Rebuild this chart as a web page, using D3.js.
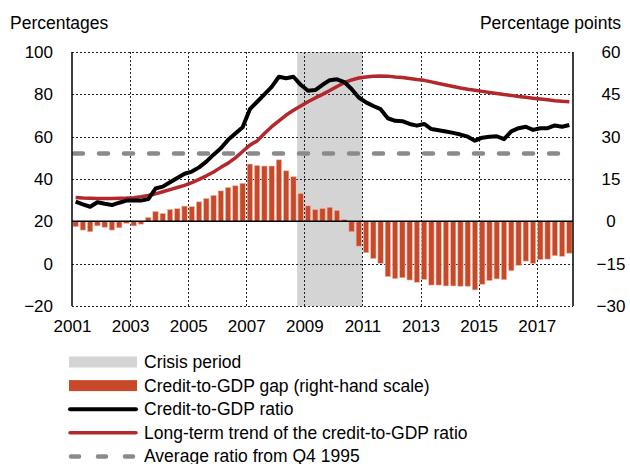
<!DOCTYPE html>
<html>
<head>
<meta charset="utf-8">
<script src="https://cdn.jsdelivr.net/npm/d3@7"></script>
<style>
  body { margin: 0; background: #fff; }
  svg { display: block; font-family: "Liberation Sans", Arial, sans-serif; }
  .tick text { font-size: 17px; fill: #000; }
</style>
</head>
<body>
<svg id="chart" width="630" height="464"></svg>
<script>
// quarters 2001Q1 .. 2018Q1
const firstYear = 2001;
const nQuarters = 69;
const quarters = d3.range(nQuarters).map(i => (firstYear + Math.floor(i / 4)) + "Q" + (i % 4 + 1));

// credit-to-GDP ratio, percentages
const ratio = [
  29.3, 28.0, 26.9, 29.0, 28.3, 27.7, 28.8, 29.8, 29.8, 29.8, 30.5, 35.5,
  36.4, 38.5, 40.5, 42.5, 43.5, 45.5, 48.2, 51.5, 54.5, 58.5, 61.5, 64.5,
  73.0, 76.5, 80.0, 83.5, 88.3, 87.6, 88.3, 84.5, 81.7, 82.0, 84.5, 86.7,
  87.1, 85.8, 82.5, 78.5, 76.2, 74.5, 73.0, 68.7, 67.5, 67.3, 66.0, 65.2,
  66.0, 63.6, 63.0, 62.4, 61.8, 61.0, 60.0, 58.1, 59.5, 60.0, 60.2, 58.8,
  62.5, 64.0, 64.7, 63.2, 64.0, 64.0, 65.3, 64.7, 65.5
];

// long-term trend of the ratio, percentages
const trend = [
  31.3, 31.0, 30.9, 30.8, 30.8, 30.8, 30.9, 31.0, 31.2, 31.6, 32.2, 33.0,
  34.0, 35.0, 36.0, 37.0, 38.3, 39.8, 41.5, 43.3, 45.5, 47.5, 50.0, 53.0,
  56.0, 58.0, 61.5, 64.7, 67.5, 70.2, 72.5, 74.5, 76.5, 78.3, 80.0, 81.8,
  83.7, 85.5, 86.8, 87.7, 88.2, 88.5, 88.7, 88.6, 88.2, 87.9, 87.5, 87.0,
  86.6, 85.9, 85.1, 84.4, 83.7, 83.0, 82.4, 81.9, 81.4, 80.9, 80.4, 79.9,
  79.5, 79.0, 78.6, 78.2, 77.8, 77.4, 77.0, 76.7, 76.5
];

// credit-to-GDP gap, percentage points (right-hand scale)
const gap = [
  -1.9, -3.1, -3.7, -1.6, -2.1, -3.1, -2.3, -0.7, -1.6, -1.0, 1.4, 3.5,
  2.8, 4.2, 4.5, 5.4, 5.2, 6.9, 8.1, 9.2, 10.8, 12.0, 12.6, 13.5,
  20.3, 19.8, 19.6, 19.6, 21.8, 17.9, 15.8, 9.9, 5.5, 4.2, 4.6, 5.0,
  3.9, 0.7, -3.7, -8.8, -11.1, -13.2, -14.9, -19.6, -20.3, -20.0, -20.8, -21.6,
  -20.6, -22.6, -22.6, -22.9, -22.9, -23.0, -23.0, -24.3, -22.3, -21.0, -20.4, -20.7,
  -17.5, -15.6, -14.1, -14.9, -13.6, -13.4, -12.2, -12.4, -11.3
];

const averageRatio = 52;
const crisisPeriod = [2008.75, 2011.0];

const leftTicks = [-20, 0, 20, 40, 60, 80, 100];
const rightTicks = [-30, -15, 0, 15, 30, 45, 60];
const yearTicks = [2001, 2003, 2005, 2007, 2009, 2011, 2013, 2015, 2017];

const legendLabels = [
  "Crisis period",
  "Credit-to-GDP gap (right-hand scale)",
  "Credit-to-GDP ratio",
  "Long-term trend of the credit-to-GDP ratio",
  "Average ratio from Q4 1995"
];

const colors = {
  crisis: "#d4d4d4",
  gap: "#c8482a",
  ratio: "#000000",
  trend: "#b3282d",
  average: "#8a8a8a"
};

// plot area
const plot = { left: 72, right: 573, top: 52, bottom: 306 };

const svg = d3.select("#chart");

const x = d3.scaleLinear()
  .domain([2001, 2018.25])
  .range([plot.left, plot.right]);

const yLeft = d3.scaleLinear()
  .domain([-20, 100])
  .range([plot.bottom, plot.top]);

const yRight = d3.scaleLinear()
  .domain([-30, 60])
  .range([plot.bottom, plot.top]);

// quarter centre on the time axis
const qx = i => x(firstYear + (i + 0.5) / 4);
const barW = (x(2001.25) - x(2001)) * 0.74;

// crisis shading
svg.append("rect")
  .attr("x", x(crisisPeriod[0]))
  .attr("y", plot.top)
  .attr("width", x(crisisPeriod[1]) - x(crisisPeriod[0]))
  .attr("height", plot.bottom - plot.top)
  .attr("fill", colors.crisis);

// dotted grid
const grid = svg.append("g")
  .attr("stroke", "#222")
  .attr("stroke-width", 1)
  .attr("stroke-dasharray", "2,2");

grid.selectAll(".hgrid")
  .data(leftTicks.filter(d => d !== 20))
  .enter().append("line")
  .attr("x1", plot.left)
  .attr("x2", plot.right)
  .attr("y1", d => Math.round(yLeft(d)) + 0.5)
  .attr("y2", d => Math.round(yLeft(d)) + 0.5);

grid.selectAll(".vgrid")
  .data(yearTicks.slice(1))
  .enter().append("line")
  .attr("x1", d => Math.round(x(d)) + 0.5)
  .attr("x2", d => Math.round(x(d)) + 0.5)
  .attr("y1", plot.top)
  .attr("y2", plot.bottom);

// gap bars on the right-hand scale
svg.append("g")
  .selectAll("rect")
  .data(gap)
  .enter().append("rect")
  .attr("x", (d, i) => qx(i) - barW / 2)
  .attr("y", d => yRight(Math.max(0, d)))
  .attr("width", barW)
  .attr("height", d => Math.abs(yRight(d) - yRight(0)))
  .attr("fill", colors.gap)
  .attr("stroke", "#eebcaa")
  .attr("stroke-width", 0.6);

// zero line of the right scale
svg.append("line")
  .attr("x1", plot.left)
  .attr("x2", plot.right)
  .attr("y1", yRight(0))
  .attr("y2", yRight(0))
  .attr("stroke", "#000")
  .attr("stroke-width", 1.5);

// average ratio
svg.append("line")
  .attr("x1", plot.left)
  .attr("x2", plot.right)
  .attr("y1", yLeft(averageRatio))
  .attr("y2", yLeft(averageRatio))
  .attr("stroke", colors.average)
  .attr("stroke-width", 4.5)
  .attr("stroke-linecap", "round")
  .attr("stroke-dasharray", "9,16")
  .attr("stroke-dashoffset", -2);

// trend and ratio lines
const line = d3.line()
  .x((d, i) => qx(i))
  .y(d => yLeft(d));

svg.append("path")
  .datum(trend)
  .attr("d", line)
  .attr("fill", "none")
  .attr("stroke", colors.trend)
  .attr("stroke-width", 3.5)
  .attr("stroke-linejoin", "round");

svg.append("path")
  .datum(ratio)
  .attr("d", line)
  .attr("fill", "none")
  .attr("stroke", colors.ratio)
  .attr("stroke-width", 4)
  .attr("stroke-linejoin", "round");

// frame: left and right solid
svg.append("line")
  .attr("x1", plot.left).attr("x2", plot.left)
  .attr("y1", plot.top).attr("y2", plot.bottom)
  .attr("stroke", "#000").attr("stroke-width", 1.5);
svg.append("line")
  .attr("x1", plot.right).attr("x2", plot.right)
  .attr("y1", plot.top).attr("y2", plot.bottom)
  .attr("stroke", "#000").attr("stroke-width", 1.5);

// axes
const leftAxis = svg.append("g")
  .attr("transform", "translate(" + plot.left + ",0)")
  .call(d3.axisLeft(yLeft).tickValues(leftTicks).tickSize(0).tickPadding(19));
leftAxis.select(".domain").remove();

const rightAxis = svg.append("g")
  .attr("transform", "translate(" + plot.right + ",0)")
  .call(d3.axisRight(yRight).tickValues(rightTicks).tickSize(0));
rightAxis.select(".domain").remove();
rightAxis.selectAll("text")
  .attr("x", 38)
  .attr("text-anchor", "middle");

const bottomAxis = svg.append("g")
  .attr("transform", "translate(0," + plot.bottom + ")")
  .call(d3.axisBottom(x).tickValues(yearTicks).tickFormat(d3.format("d")).tickSize(0).tickPadding(14));
bottomAxis.select(".domain").remove();

// unit titles
svg.append("text")
  .attr("x", 10)
  .attr("y", 29)
  .attr("font-size", 17.5)
  .text("Percentages");

svg.append("text")
  .attr("x", 621)
  .attr("y", 29)
  .attr("text-anchor", "end")
  .attr("font-size", 17.5)
  .text("Percentage points");

// legend
const legend = svg.append("g").attr("transform", "translate(69,362)");
const rowH = 23.6;
const sw = 68;

legend.append("rect")
  .attr("x", 0).attr("y", -5.5)
  .attr("width", sw).attr("height", 11)
  .attr("fill", colors.crisis);
legend.append("rect")
  .attr("x", 0).attr("y", rowH - 5.5)
  .attr("width", sw).attr("height", 11)
  .attr("fill", colors.gap);
legend.append("line")
  .attr("x1", 1).attr("x2", sw - 1)
  .attr("y1", rowH * 2).attr("y2", rowH * 2)
  .attr("stroke", colors.ratio).attr("stroke-width", 4)
  .attr("stroke-linecap", "round");
legend.append("line")
  .attr("x1", 1).attr("x2", sw - 1)
  .attr("y1", rowH * 3).attr("y2", rowH * 3)
  .attr("stroke", colors.trend).attr("stroke-width", 3.5)
  .attr("stroke-linecap", "round");
legend.append("line")
  .attr("x1", 2).attr("x2", sw)
  .attr("y1", rowH * 4).attr("y2", rowH * 4)
  .attr("stroke", colors.average).attr("stroke-width", 4.5)
  .attr("stroke-linecap", "round")
  .attr("stroke-dasharray", "8,19");

legend.selectAll(".legend-label")
  .data(legendLabels)
  .enter().append("text")
  .attr("x", 75)
  .attr("y", (d, i) => i * rowH + 6)
  .attr("font-size", 17.5)
  .text(d => d);
</script>
</body>
</html>
